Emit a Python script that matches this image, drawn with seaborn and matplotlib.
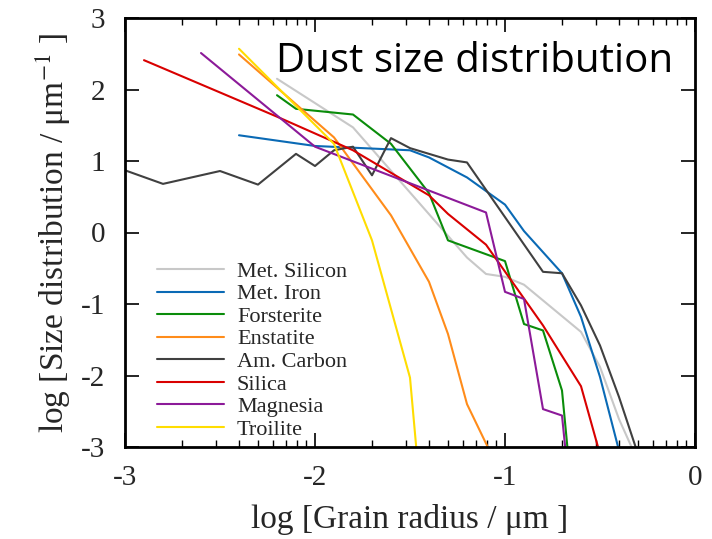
import numpy as np
import pandas as pd
import matplotlib
matplotlib.use("Agg")
import matplotlib.pyplot as plt
import seaborn as sns

sns.set_theme(style="white")
plt.rcParams['font.family'] = ['Liberation Serif', 'DejaVu Serif']
plt.rcParams['mathtext.fontset'] = 'stix'

# ---- data (log grain radius, log size distribution) ----
labels = ["Met. Silicon", "Met. Iron", "Forsterite", "Enstatite",
          "Am. Carbon", "Silica", "Magnesia", "Troilite"]
colors = ["#c8c8c8", "#0a6ab5", "#0a8c0a", "#ff8c1a",
          "#404040", "#d90000", "#8c1a99", "#ffdd00"]

silicon_x = [-2.2, -1.8, -1.2, -1.1, -1.0, -0.9, -0.6, -0.5, -0.4, -0.3]
silicon_y = [2.15, 1.47, -0.35, -0.58, -0.62, -0.73, -1.39, -1.88, -2.61, -3.2]

iron_x = [-2.4, -2.0, -1.5, -1.4, -1.2, -1.0, -0.9, -0.7, -0.6, -0.5, -0.4]
iron_y = [1.36, 1.21, 1.15, 1.05, 0.77, 0.39, 0.02, -0.57, -1.18, -2.02, -3.05]

forsterite_x = [-2.2, -2.1, -1.8, -1.6, -1.4, -1.3, -1.0, -0.9, -0.8, -0.7, -0.6]
forsterite_y = [1.92, 1.73, 1.65, 1.24, 0.55, -0.11, -0.40, -1.28, -1.37, -2.21, -5.0]

enstatite_x = [-2.4, -1.9, -1.6, -1.4, -1.3, -1.2, -1.0]
enstatite_y = [2.49, 1.33, 0.24, -0.69, -1.42, -2.40, -3.5]

carbon_x = [-3.0, -2.8, -2.5, -2.3, -2.1, -2.0, -1.9, -1.8, -1.7, -1.6,
            -1.5, -1.3, -1.2, -0.8, -0.7, -0.6, -0.5, -0.4, -0.3]
carbon_y = [0.87, 0.68, 0.86, 0.67, 1.10, 0.93, 1.15, 1.20, 0.80, 1.32,
            1.18, 1.02, 0.98, -0.55, -0.57, -1.02, -1.58, -2.30, -3.1]

silica_x = [-2.9, -2.2, -1.8, -1.4, -1.3, -1.1, -0.8, -0.6, -0.5]
silica_y = [2.41, 1.62, 1.15, 0.52, 0.26, -0.17, -1.30, -2.15, -3.1]

magnesia_x = [-2.6, -2.0, -1.1, -1.0, -0.9, -0.8, -0.7, -0.6]
magnesia_y = [2.51, 1.20, 0.28, -0.83, -0.93, -2.47, -2.56, -5.2]

troilite_x = [-2.4, -1.9, -1.7, -1.5, -1.4]
troilite_y = [2.57, 1.24, -0.11, -2.03, -5.0]

series_x = [silicon_x, iron_x, forsterite_x, enstatite_x,
            carbon_x, silica_x, magnesia_x, troilite_x]
series_y = [silicon_y, iron_y, forsterite_y, enstatite_y,
            carbon_y, silica_y, magnesia_y, troilite_y]

x_ticks = [-3, -2, -1, 0]
x_ticklabels = ["-3", "-2", "-1", "0"]
y_ticks = [-3, -2, -1, 0, 1, 2, 3]
y_ticklabels = ["-3", "-2", "-1", "0", "1", "2", "3"]

fig = plt.figure(figsize=(7.12, 5.39), dpi=100)
ax = fig.add_axes([125/712, 1-447/539, 570/712, 429/539])

for lab, col, xs, ys in zip(labels, colors, series_x, series_y):
    df = pd.DataFrame({"x": xs, "y": ys})
    sns.lineplot(data=df, x="x", y="y", ax=ax, color=col, label=lab,
                 sort=False, linewidth=1.5, estimator=None)

ax.set_xlim(-3, 0)
ax.set_ylim(-3, 3)

ax.set_xticks(x_ticks)
ax.set_xticklabels(x_ticklabels)
minor = [d + np.log10(k) for d in (-3, -2, -1) for k in range(2, 10)]
ax.set_xticks(minor, minor=True)
ax.set_yticks(y_ticks)
ax.set_yticklabels(y_ticklabels)

ax.tick_params(axis='both', which='major', direction='in', top=True, right=True,
               labelsize=21, width=1.2, color='black', bottom=True, left=True)
ax.tick_params(axis='x', which='major', length=10, pad=13)
ax.tick_params(axis='y', which='major', length=10, pad=14)
ax.tick_params(axis='x', which='minor', direction='in', top=True, bottom=True,
               length=5, width=1.0, color='black')

for sp in ax.spines.values():
    sp.set_color('black')
    sp.set_linewidth(2)

ax.set_xlabel("log [Grain radius / \u03bcm ]", fontsize=24, labelpad=9)
ax.set_ylabel("log [Size distribution / \u03bcm$^{-1}$ ]", fontsize=24, labelpad=6)

ax.text(0.961, 0.875, "Dust size distribution", transform=ax.transAxes,
        ha='right', va='baseline', fontsize=29, family=['Open Sans', 'DejaVu Sans'],
        color='black')

leg = ax.legend(loc='upper left', bbox_to_anchor=(0.056, 0.433), frameon=False,
                fontsize=16, handlelength=3.0, handletextpad=0.6,
                labelspacing=0.09, borderpad=0, borderaxespad=0)
for h in leg.get_lines():
    h.set_linewidth(1.5)

fig.savefig("out.png", dpi=100)
